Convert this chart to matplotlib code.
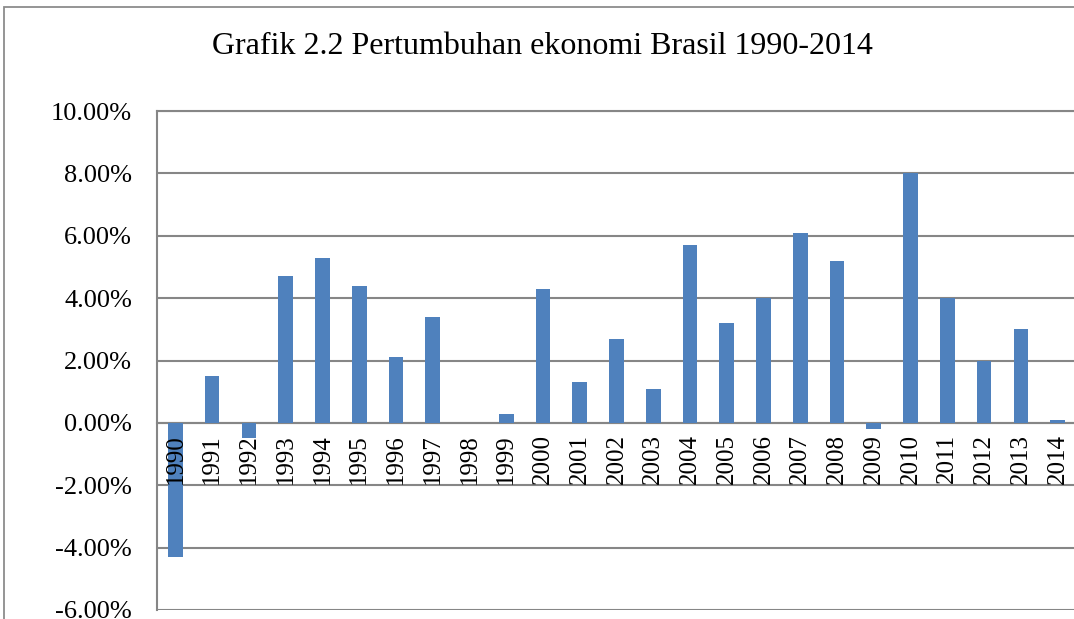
import matplotlib
matplotlib.use("Agg")
import matplotlib.pyplot as plt
from matplotlib.patches import Rectangle
from matplotlib.ticker import FuncFormatter

# Brazil GDP growth, percent
years = [str(y) for y in range(1990, 2015)]
growth = [-4.3, 1.5, -0.5, 4.7, 5.3, 4.4, 2.1, 3.4, 0.0, 0.3,
          4.3, 1.3, 2.7, 1.1, 5.7, 3.2, 4.0, 6.1, 5.2, -0.2,
          8.0, 4.0, 2.0, 3.0, 0.1]
y_ticks = [-6, -4, -2, 0, 2, 4, 6, 8, 10]
title = "Grafik 2.2 Pertumbuhan ekonomi Brasil 1990-2014"

plt.rcParams["font.family"] = ["Liberation Serif", "DejaVu Serif"]

fig = plt.figure(figsize=(10.74, 6.19), dpi=100)
W, H = 1074, 619

# chart area border (cut off on the right and bottom)
fig.patches.append(Rectangle((4 / W, -0.1), 1.2, 1 - 7 / H + 0.1,
                             transform=fig.transFigure, fill=False,
                             edgecolor="#8c8c8c", linewidth=1.3))

ax = fig.add_axes([157 / W, 9 / H, (1076 - 157) / W, (610 - 111) / H])

# move the category axis to y = 0 before styling the ticks
# (set_position resets the tick objects)
ax.spines["bottom"].set_position(("data", 0))

x = list(range(len(years)))
ax.bar(x, growth, width=0.4, color="#4f81bd", zorder=3)

ax.set_xlim(-0.5, len(years) - 0.5)
ax.set_ylim(-6, 10)
ax.set_yticks(y_ticks)
ax.yaxis.set_major_formatter(FuncFormatter(lambda v, _: f"{v:.2f}%"))
ax.set_xticks(x)
ax.set_xticklabels(years)

ax.grid(axis="y", color="#868686", linewidth=1.5, zorder=0)
ax.set_axisbelow(True)
# year labels are written over the bars, as in the original
ax.xaxis.set_zorder(4)

for side in ("bottom", "left", "top"):
    ax.spines[side].set_color("#868686")
    ax.spines[side].set_linewidth(1.5)
ax.spines["right"].set_visible(False)

ax.tick_params(axis="x", length=0, pad=8, labelsize=18, labelrotation=90)
ax.tick_params(axis="y", length=0, pad=18, labelsize=19)

fig.text(542 / W, 1 - 46 / H, title, ha="center", va="center", fontsize=23)

fig.savefig("out.png", dpi=100)
